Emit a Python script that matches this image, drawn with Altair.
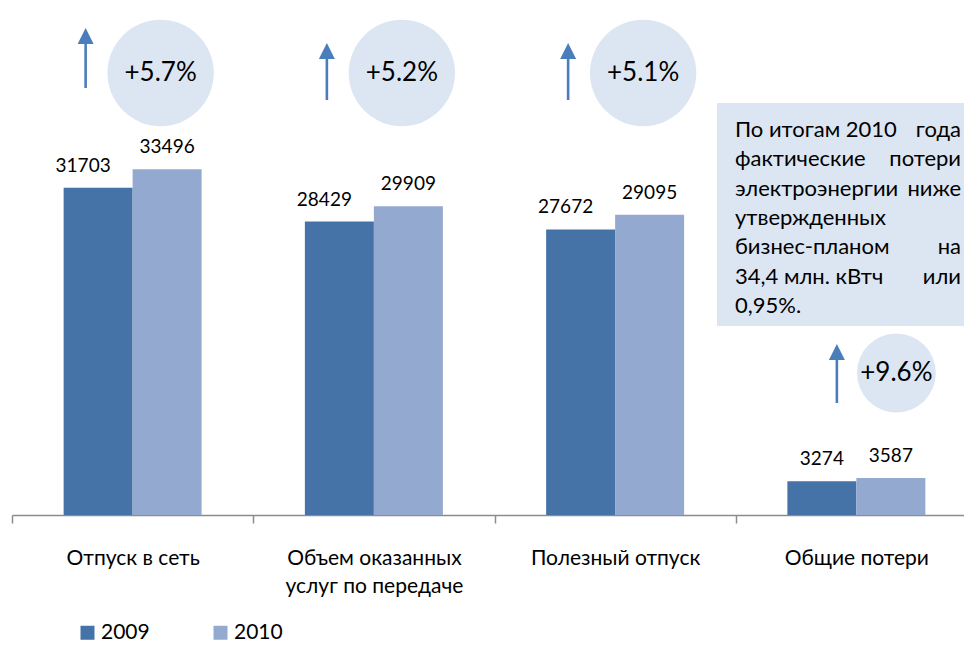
import math
import altair as alt
import pandas as pd

# ---------------- data ----------------
categories = ["Отпуск в сеть", "Объем оказанных услуг по передаче", "Полезный отпуск", "Общие потери"]
years = ["2009", "2010"]
values_2009 = [31703, 28429, 27672, 3274]
values_2010 = [33496, 29909, 29095, 3587]
growth = ["+5.7%", "+5.2%", "+5.1%", "+9.6%"]
label_lines = {"Объем оказанных услуг по передаче": ["Объем оказанных", "услуг по передаче"]}
note_lines = [
    "По итогам 2010 года",
    "фактические потери",
    "электроэнергии ниже",
    "утвержденных",
    "бизнес-планом на",
    "34,4 млн. кВтч или",
    "0,95%.",
]

# ---------------- styles ----------------
FONT = "Lato, 'Open Sans', sans-serif"
C2009 = "#4572A7"
C2010 = "#94A9D0"
BUBBLE = "#DCE6F2"
ARROW = "#4A7EBB"
AXIS = "#8C8C8C"

rows = []
for c, v9, v10 in zip(categories, values_2009, values_2010):
    rows.append({"category": c, "year": "2009", "value": v9})
    rows.append({"category": c, "year": "2010", "value": v10})
bars_df = pd.DataFrame(rows)
growth_df = pd.DataFrame({"category": categories, "growth": growth})

# justified-looking note: last word of multi-word lines right aligned
note_rows = []
for i, ln in enumerate(note_lines):
    w = ln.split(" ")
    if len(w) > 1 and i != len(note_lines) - 1:
        note_rows.append({"line": i, "left": " ".join(w[:-1]), "right": w[-1]})
    else:
        note_rows.append({"line": i, "left": ln, "right": ""})
note_df = pd.DataFrame(note_rows)

label_expr = " : ".join(
    [f"datum.label == '{k}' ? {v!r}" for k, v in label_lines.items()] + ["datum.label"]
)

# the category axis runs slightly past the right edge of the picture, as in the original
xscale = alt.Scale(domain=categories, range=[0, 965], paddingInner=0, paddingOuter=0)
xaxis = alt.Axis(
    title=None, labelFont=FONT, labelFontSize=21, labelColor="#000000", labelAngle=0,
    domainColor=AXIS, domainWidth=1.5, tickColor=AXIS, tickWidth=1.5, tickSize=8,
    tickBand="extent", labelPadding=24, labelLineHeight=28, labelLimit=400,
    labelExpr=label_expr, grid=False,
)
X = alt.X("category:N", scale=xscale, axis=xaxis, sort=categories)
Y = alt.Y("value:Q", scale=alt.Scale(domain=[0, 49128], nice=False, zero=True), axis=None)
XO = alt.XOffset("year:N", scale=alt.Scale(domain=years, paddingInner=0, paddingOuter=0.7484))

base_bars = alt.Chart(bars_df)

bars = base_bars.mark_bar().encode(
    x=X, xOffset=XO, y=Y,
    color=alt.Color(
        "year:N",
        scale=alt.Scale(domain=years, range=[C2009, C2010]),
        legend=alt.Legend(
            title=None, orient="none", legendX=65, legendY=614, direction="horizontal",
            symbolType="square", symbolSize=196, symbolStrokeWidth=0, labelFont=FONT,
            labelFontSize=21, labelColor="#000000", labelOffset=3, columnPadding=60, padding=0,
        ),
    ),
)

shift_cond = "datum.year == '2009' && datum.category != 'Общие потери'"
labels_shift = base_bars.transform_filter(shift_cond).mark_text(
    font=FONT, fontSize=19, color="#000000", baseline="alphabetic", dy=-16, dx=-15
).encode(x=X, xOffset=XO, y=Y, text="value:Q")
labels_rest = base_bars.transform_filter("!(" + shift_cond + ")").mark_text(
    font=FONT, fontSize=19, color="#000000", baseline="alphabetic", dy=-16
).encode(x=X, xOffset=XO, y=Y, text="value:Q")

base_g = alt.Chart(growth_df)


def annotation(cats, bubble_off, bubble_y, radius, arrow_off, tip_y, bottom_y):
    src = base_g.transform_filter(alt.FieldOneOfPredicate(field="category", oneOf=cats))
    circle = src.mark_circle(color=BUBBLE, opacity=1, size=math.pi * radius * radius,
                             xOffset=bubble_off).encode(x=X, y=alt.value(bubble_y))
    txt = src.mark_text(font=FONT, fontSize=26, color="#000000", baseline="middle",
                        xOffset=bubble_off).encode(x=X, y=alt.value(bubble_y), text="growth:N")
    rule = src.mark_rule(color=ARROW, strokeWidth=2.6, xOffset=arrow_off).encode(
        x=X, y=alt.value(tip_y + 12), y2=alt.value(bottom_y))
    head = src.mark_point(shape="M0,-1L1,1L-1,1Z", size=256, filled=True, color=ARROW,
                          opacity=1, strokeWidth=0, xOffset=arrow_off).encode(
        x=X, y=alt.value(tip_y + 8))
    return [circle, txt, rule, head]


ann = []
ann += annotation([categories[0]], 28, 65, 60, -47, 20, 80)
ann += annotation(categories[1:3], 28, 65, 60, -47, 35, 92)
ann += annotation([categories[3]], 40, 365, 44.5, -19.5, 336, 395)

NOTE_TOP = 129
NOTE_LH = 29.3
note_base = alt.Chart(note_df)
note_box = note_base.transform_filter("datum.line == 0").mark_rect(color=BUBBLE).encode(
    x=alt.value(705), x2=alt.value(990), y=alt.value(95), y2=alt.value(318))
note_pos = note_base.transform_calculate(py=f"{NOTE_TOP} + datum.line * {NOTE_LH}")
note_left = note_pos.mark_text(font=FONT, fontSize=22, color="#000000", align="left",
                               baseline="alphabetic").encode(
    x=alt.value(723), y=alt.Y("py:Q", scale=None), text="left:N")
note_right = note_pos.mark_text(font=FONT, fontSize=22, color="#000000", align="right",
                                baseline="alphabetic").encode(
    x=alt.value(949), y=alt.Y("py:Q", scale=None), text="right:N")

chart = alt.layer(
    bars, labels_shift, labels_rest, *ann, note_box, note_left, note_right
).properties(
    width=952, height=507,
    padding={"left": 4, "top": 0, "right": 0, "bottom": 129},
    autosize=alt.AutoSizeParams(type="none"),
).configure_view(stroke=None).configure_axis(grid=False)

chart.save("out.html", embed_options={"renderer": "svg", "actions": False})
